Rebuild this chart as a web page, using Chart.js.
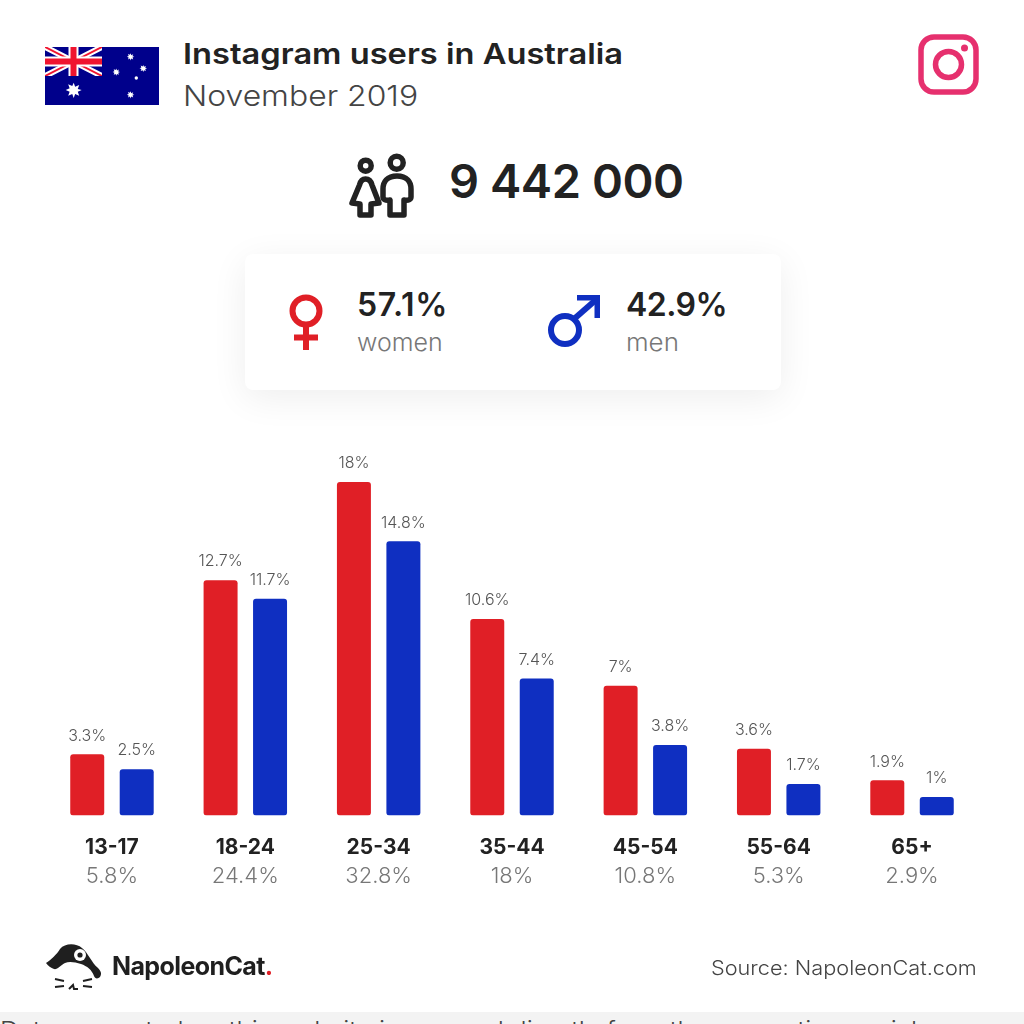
<!DOCTYPE html>
<html>
<head>
<meta charset="utf-8">
<title>Instagram users in Australia</title>
<script src="https://cdn.jsdelivr.net/npm/chart.js@4/dist/chart.umd.min.js"></script>
<style>
  html, body { margin: 0; padding: 0; background: #fff; }
  body { width: 1024px; height: 1024px; position: relative; overflow: hidden; font-family: Inter, sans-serif; color: #222; }
  #chart { position: absolute; left: 0; top: 0; }
  .abs { position: absolute; white-space: nowrap; line-height: 1; transform-origin: left center; }
  .card { position: absolute; left: 245px; top: 254px; width: 536px; height: 136px; border-radius: 8px; background: #fff;
          box-shadow: 0 8px 36px rgba(0,0,0,0.07); }
  .strip { position: absolute; left: 0; top: 1012px; width: 1024px; height: 12px; background: #f3f3f3; overflow: hidden; }
  svg { position: absolute; overflow: visible; }
</style>
</head>
<body>

<!-- flag -->
<svg style="left:45px;top:47px" width="114" height="58" viewBox="0 0 114 58">
  <defs>
    <clipPath id="uj"><rect width="57" height="29"/></clipPath>
    <path id="star" d="M0-5l1 2.7 2.8-1.2-1 2.8L5.5 0 2.8 1.2l1 2.8L1 2.8 0 5.5-1 2.8l-2.8 1.2 1-2.8L-5.5 0l2.7-1.2-1-2.8L-1-2.8z"/>
  </defs>
  <rect width="114" height="58" fill="#00008b"/>
  <g clip-path="url(#uj)">
    <path d="M0 0L57 29M57 0L0 29" stroke="#fff" stroke-width="6"/>
    <path d="M0 0L57 29M57 0L0 29" stroke="#f0142f" stroke-width="2"/>
    <path d="M28.5 0V29M0 14.5H57" stroke="#fff" stroke-width="10"/>
    <path d="M28.5 0V29M0 14.5H57" stroke="#f0142f" stroke-width="6"/>
  </g>
  <g fill="#fff">
    <use href="#star" transform="translate(28.7 43) scale(1.45)"/>
    <use href="#star" transform="translate(85.6 9.7) scale(.68)"/>
    <use href="#star" transform="translate(71.3 25) scale(.68)"/>
    <use href="#star" transform="translate(98.3 21.3) scale(.68)"/>
    <use href="#star" transform="translate(85.6 47.7) scale(.68)"/>
    <circle cx="91.3" cy="31" r="1.7"/>
  </g>
</svg>

<div class="abs" style="left:183px;top:39px;font-size:29px;font-weight:600;transform:scaleX(1.125)">Instagram users in Australia</div>
<div class="abs" style="left:183px;top:81px;font-size:29px;font-weight:300;color:#444;transform:scaleX(1.1)">November 2019</div>

<!-- instagram glyph -->
<svg style="left:918px;top:34px" width="61" height="61" viewBox="0 0 61 61" fill="none" stroke="#e6306e">
  <rect x="3" y="3" width="55" height="55" rx="13" stroke-width="5.5"/>
  <circle cx="30.5" cy="30.5" r="13" stroke-width="5.5"/>
  <circle cx="46.5" cy="14" r="3.5" fill="#e6306e" stroke="none"/>
</svg>

<!-- people glyph -->
<svg style="left:349px;top:154px" width="66" height="64" viewBox="0 0 66 64" fill="none" stroke="#222" stroke-width="5.5" stroke-linejoin="round" stroke-linecap="round">
  <circle cx="16.7" cy="11.7" r="5.5"/>
  <path d="M16.5 25c-3 0-5 2-6 6L3 49l8 1v11h11V50l8-1-7-18c-1-4-3-6-6.5-6z"/>
  <circle cx="47.7" cy="8.7" r="6.5"/>
  <path d="M48 22c-10 0-14 6-14 13v8c0 2 2 4 7 3v15h14V46c5 1 7-1 7-3v-8c0-7-4-13-14-13z"/>
</svg>

<div class="abs" style="left:449px;top:157px;font-size:47px;font-weight:600;letter-spacing:-0.45px">9 442 000</div>

<div class="card"></div>

<!-- female glyph -->
<svg style="left:285px;top:292px" width="42" height="60" viewBox="0 0 42 60" fill="none" stroke="#e01f26" stroke-width="6">
  <circle cx="21" cy="19" r="13.5"/>
  <path d="M21 33V58M9 45.5H33"/>
</svg>
<div class="abs" style="left:357px;top:289px;font-size:32px;font-weight:600;letter-spacing:0.7px">57.1%</div>
<div class="abs" style="left:357px;top:331px;font-size:24px;font-weight:300;color:#777;transform:scaleX(1.04)">women</div>

<!-- male glyph -->
<svg style="left:546px;top:295px" width="56" height="56" viewBox="0 0 56 56" fill="none" stroke="#0f2fc1" stroke-width="6">
  <circle cx="19" cy="35" r="14"/>
  <path d="M28 24L52 3"/>
  <path d="M31 0H54V23H48.5V5.5H31z" fill="#0f2fc1" stroke="none"/>
</svg>
<div class="abs" style="left:626px;top:289px;font-size:32px;font-weight:600;letter-spacing:-0.5px">42.9%</div>
<div class="abs" style="left:626px;top:331px;font-size:24px;font-weight:300;color:#777;transform:scaleX(1.08)">men</div>

<canvas id="chart" width="1024" height="1024"></canvas>

<!-- cat logo -->
<svg style="left:45px;top:944px" width="58" height="46" viewBox="0 0 58 46">
  <path d="M1 19C6 16 12 10 15 5 20-1 31-1 37 4 44 10 46 18 53 24 56 27 57 30 55 33 53 35 50 35 49 32 47 26 42 22 36 20 30 18 24 17 20 19 16 21 12 26 9 25 6 24 3 22 1 19z" fill="#1f1f1f"/>
  <circle cx="35" cy="11" r="6" fill="#fff"/>
  <circle cx="35" cy="11" r="2.6" fill="#1f1f1f"/>
  <path d="M10 35l9 2M10 43l9-1M47 35l-9 2M47 43l-9-1M24 45l4-4 1 4h4" stroke="#1f1f1f" stroke-width="2" fill="none"/>
</svg>
<div class="abs" style="left:112px;top:954px;font-size:25px;font-weight:700;letter-spacing:-0.6px;color:#1f1f1f">NapoleonCat<span style="color:#e01f26">.</span></div>

<div class="abs" style="right:47px;top:958px;font-size:20px;font-weight:300;color:#444;transform-origin:right center;transform:scaleX(1.086)">Source: NapoleonCat.com</div>

<div class="strip"><div class="abs" style="left:0;top:7px;font-size:24px;font-weight:300;color:#444;transform:scaleX(1.08)">Data presented on this website is sourced directly from the respective social</div></div>

<script>
  // Age groups, with share of all users under each one.
  const AGE_GROUPS = ['13-17', '18-24', '25-34', '35-44', '45-54', '55-64', '65+'];
  const TOTALS = ['5.8%', '24.4%', '32.8%', '18%', '10.8%', '5.3%', '2.9%'];
  const WOMEN = [3.3, 12.7, 18, 10.6, 7, 3.6, 1.9];
  const MEN = [2.5, 11.7, 14.8, 7.4, 3.8, 1.7, 1];

  const RED = '#e01f26';
  const BLUE = '#0f2fc1';
  const FONT = 'Inter, sans-serif';

  // Value labels sit above each bar.
  const barLabels = {
    id: 'barLabels',
    afterDatasetsDraw(chart) {
      const { ctx } = chart;
      ctx.save();
      ctx.font = `300 16px ${FONT}`;
      ctx.fillStyle = '#555';
      ctx.textAlign = 'center';
      ctx.textBaseline = 'middle';
      chart.data.datasets.forEach((ds, i) => {
        chart.getDatasetMeta(i).data.forEach((bar, j) => {
          ctx.fillText(`${ds.data[j]}%`, bar.x, bar.y - 18.5);
        });
      });
      ctx.restore();
    },
  };

  new Chart(document.getElementById('chart'), {
    type: 'bar',
    data: {
      labels: AGE_GROUPS,
      datasets: [
        { label: 'women', data: WOMEN, backgroundColor: RED, borderRadius: 3, borderSkipped: false },
        { label: 'men', data: MEN, backgroundColor: BLUE, borderRadius: 3, borderSkipped: false },
      ],
    },
    plugins: [barLabels],
    options: {
      responsive: false,
      animation: false,
      devicePixelRatio: 1,
      categoryPercentage: 0.742,
      barPercentage: 0.687,
      layout: { padding: { left: 45.3, right: 45.3, top: 444.9, bottom: 134.5 } },
      plugins: { legend: { display: false }, tooltip: { enabled: false } },
      scales: {
        y: { display: false, min: 0, max: 20 },
        x: {
          grid: { display: false },
          border: { display: false },
          ticks: { color: '#222', font: { family: FONT, size: 21, weight: '700' }, padding: 12, maxRotation: 0, autoSkip: false },
          afterFit: (scale) => { scale.height = 42; },
        },
        xTotal: {
          type: 'category',
          labels: TOTALS,
          position: 'bottom',
          grid: { display: false, tickLength: 6 },
          border: { display: false },
          ticks: { color: '#777', font: { family: FONT, size: 22, weight: '300' }, padding: 0, maxRotation: 0, autoSkip: false },
          afterFit: (scale) => { scale.height = 32; },
        },
      },
    },
  });
</script>
</body>
</html>
